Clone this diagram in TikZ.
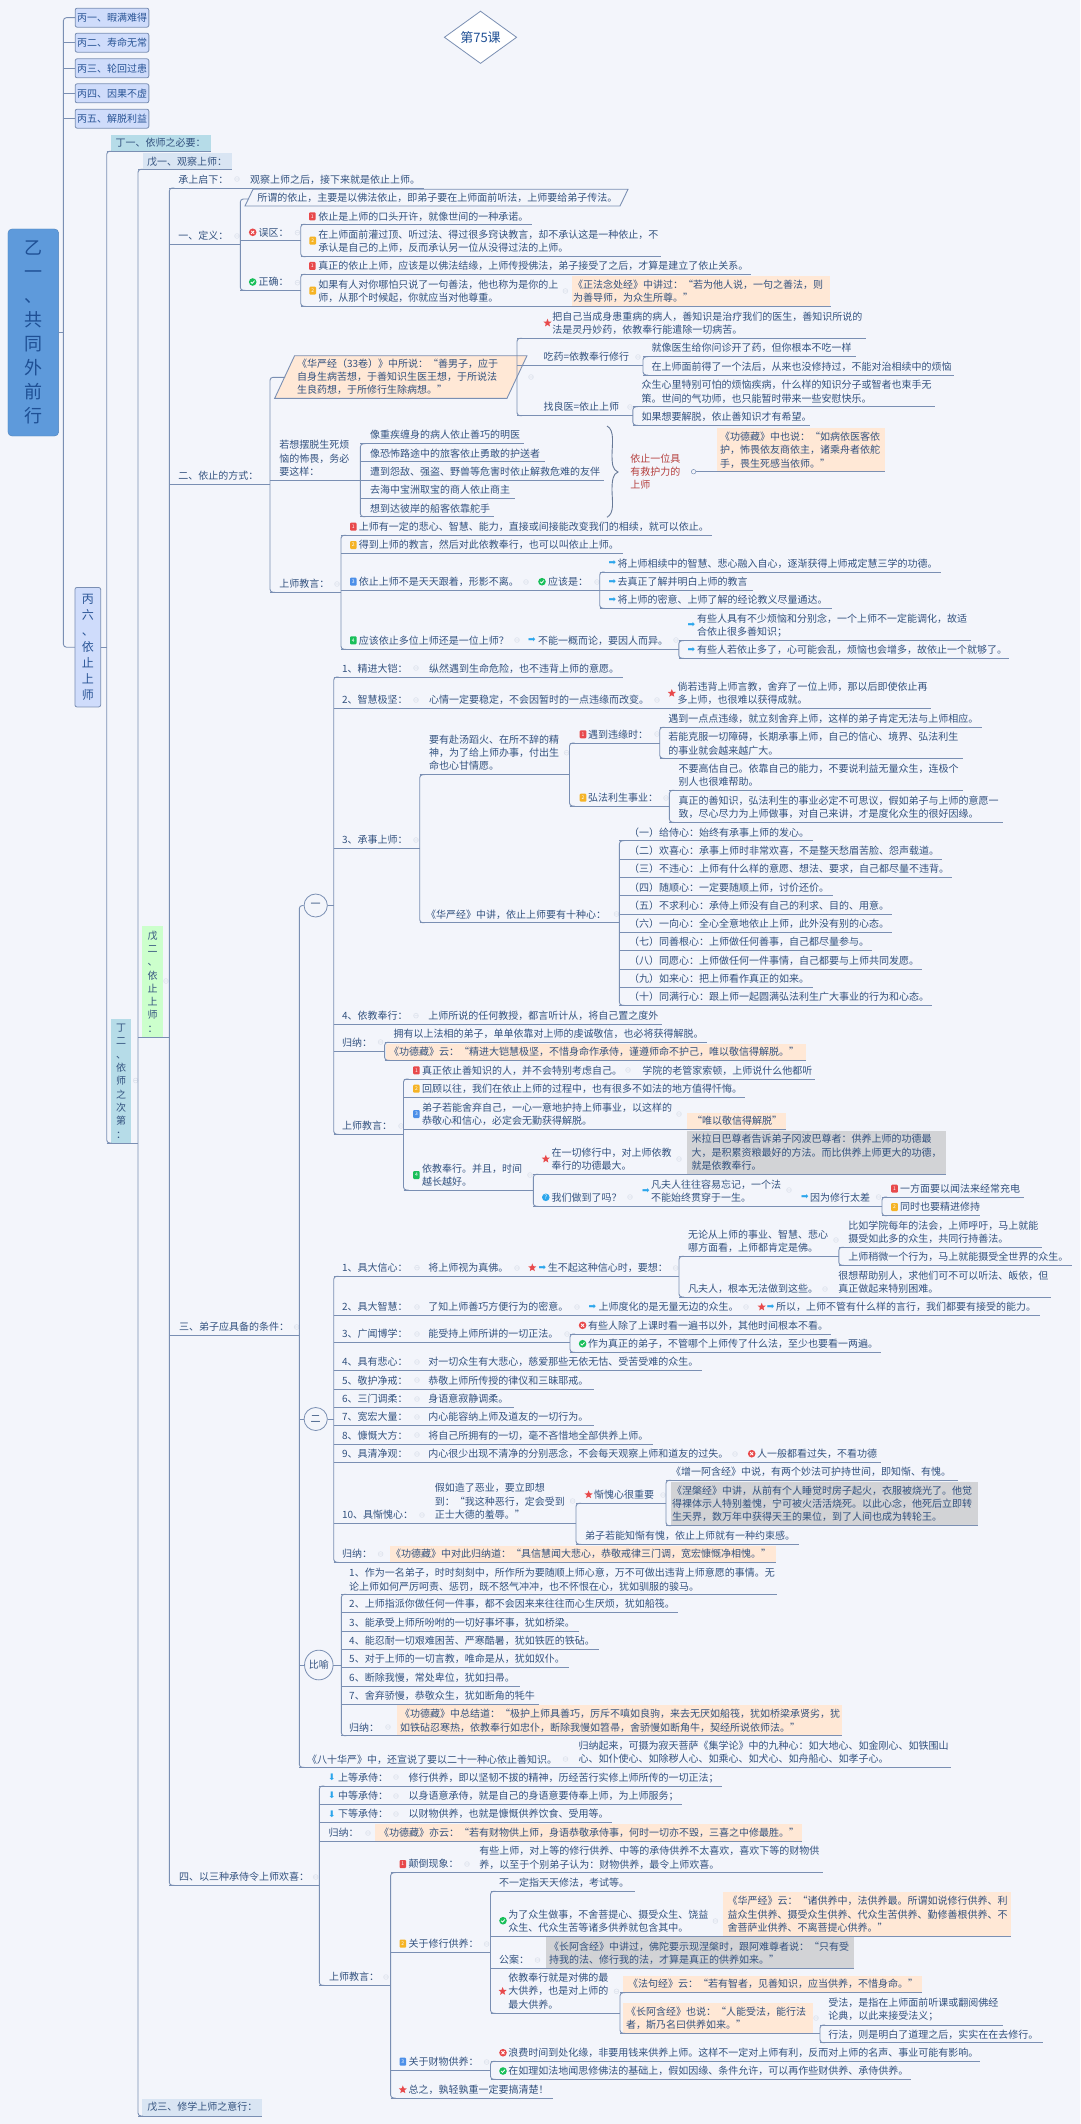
\documentclass[tikz,border=0pt]{standalone}
\usepackage{fontspec}
\setmainfont{Noto Sans CJK SC}
\newfontfamily\djf{DejaVu Sans}
\usetikzlibrary{shapes.geometric}
\definecolor{bgc}{HTML}{F3F5FB}
\definecolor{ink}{HTML}{33527F}
\definecolor{linkc}{HTML}{7A8FB3}
\definecolor{peach}{HTML}{FFE8D6}
\definecolor{greyb}{HTML}{D2D3D6}
\definecolor{wuc}{HTML}{D9E5F3}
\definecolor{dingc}{HTML}{B6DCE8}
\definecolor{wugreen}{HTML}{CCFFCC}
\definecolor{bingc}{HTML}{CFDCFB}
\definecolor{bingt}{HTML}{2A5596}
\definecolor{rootc}{HTML}{5E9ADB}
\definecolor{roott}{HTML}{1E4F94}
\definecolor{bred}{HTML}{E8494B}
\definecolor{borange}{HTML}{F5B325}
\definecolor{bblue}{HTML}{4C8FE8}
\definecolor{bgreen}{HTML}{19BF5A}
\definecolor{arrowc}{HTML}{2BA6EC}
\definecolor{mkc}{HTML}{DDE2EC}
\definecolor{redtxt}{HTML}{B5403F}
\tikzset{
  lab/.style={anchor=west,inner sep=0pt,outer sep=0pt,align=left,text=ink,font=\fontsize{10}{13.33}\selectfont},
  link/.style={draw=linkc,line width=0.9pt},
  boxn/.style={anchor=north west,inner sep=0pt,outer sep=0pt,draw=none},
  vert/.style={inner sep=0pt,outer sep=0pt,align=center,text=ink,font=\fontsize{10}{13.33}\selectfont},
  bing/.style={draw=linkc,fill=bingc,rounded corners=2pt,inner sep=0pt,outer sep=0pt,align=center,line width=.8pt,text=bingt,font=\fontsize{10}{13.33}\selectfont},
  badge/.style={rectangle,rounded corners=1pt,minimum width=6.6pt,minimum height=8pt,inner sep=0pt,text=white,font=\fontsize{5}{5}\selectfont},
  ico/.style={circle,minimum size=7.6pt,inner sep=0pt},
  aic/.style={inner sep=0pt,text=arrowc,font=\djf\fontsize{9}{9}\selectfont},
  sic/.style={star,star points=5,star point ratio=2.3,fill=bred,minimum size=8.5pt,inner sep=0pt},
  circn/.style={ellipse,draw=linkc,line width=.8pt,inner sep=0pt,text=ink,font=\fontsize{10}{12}\selectfont},
  mk/.style={draw=mkc,line width=.6pt},
  para/.style={draw=linkc,line width=.9pt}
}
\newcommand\Sa{\vrule width0pt height 10.4pt depth 0pt\relax}
\newcommand\Sb{\vrule width0pt height 0pt depth 2.9pt\relax}
\newcommand\Tx[4]{\node[lab] (#1) at (#2,#3) {\Sa #4\Sb};}
\newcommand\Ln[4]{\coordinate (#1-l) at (#3,#2);\coordinate (#1-r) at (#4,#2);\draw[link] (#1-l) -- (#1-r);}
\newcommand\Ul[7]{\Ln{#1}{#5}{#6}{#7}\Tx{#1}{#2}{#3}{#4}}
\newcommand\Tr[2]{\draw[link,rounded corners=3pt] ([xshift=5pt]#1-l) -- (#1-l) -- (#2-l) -- ([xshift=5pt]#2-l);}
\newcommand\Bg[6]{\node[boxn,fill=#6,minimum width={(#4)-(#2)},minimum height={(#5)-(#3)}] (#1) at (#2,#3) {};}
\newcommand\Bd[5]{\node[badge,fill=#5] (#1) at (#2,#3) {#4};}
\newcommand\IcX[3]{\node[ico,fill=bred] (#1) at (#2,#3) {};\draw[white,line width=.8pt] ([shift={(-1.5,-1.5)}]#1.center) -- ([shift={(1.5,1.5)}]#1.center) ([shift={(-1.5,1.5)}]#1.center) -- ([shift={(1.5,-1.5)}]#1.center);}
\newcommand\IcC[3]{\node[ico,fill=bgreen] (#1) at (#2,#3) {};\draw[white,line width=.8pt] ([shift={(-1.9,0)}]#1.center) -- ([shift={(-.5,1.4)}]#1.center) -- ([shift={(1.9,-1.3)}]#1.center);}
\newcommand\IcQ[3]{\node[ico,fill=arrowc,text=white,font=\fontsize{6}{6}\selectfont] (#1) at (#2,#3) {?};}
\newcommand\IcA[3]{\node[aic] (#1) at (#2,#3) {➡};}
\newcommand\IcD[3]{\node[aic] (#1) at (#2,#3) {⬇};}
\newcommand\IcS[3]{\node[sic] (#1) at (#2,#3) {};}
\begin{document}
\begin{tikzpicture}[x=1pt,y=-1pt]
\useasboundingbox (0,0) rectangle (1080,2124);
\fill[bgc] (0,0) rectangle (1080,2124);
% faint collapse marks
\foreach \mx/\my in {237/179,237/236,297.5/232.7,297.5/282.7,565.4/291,531/377,638/357,630/407,337/584,526/582,597/582,517/640,676/640,416/668,416/700,657/700,416/840,566.6/752.7,657/734,666/798,616.5/914,416/1015.7,380.6/1042,628/1070,401/1126,679/1114,530/1175,679/1159,630/1197,789/1190,878.6/1197,417/1267.7,517/1268,675.6/1268,836/1240,825/1289,417/1307,577/1307,746/1307,417/1334,567/1334,417/1362,417/1380,417/1399,417/1417,417/1435,417/1454,735/1454,422/1515,572.6/1501,663/1495,380.6/1554,388/1727,565.5/1759,396/1777,396/1796,396/1814,368/1833,467/1864,486.6/1944,715.4/1921,537.5/1960,616.5/1991.3,816/2018,486.6/2062,386/1977,315.7/1877,296.7/1327,166/981,135.7/1080.5}
  {\draw[mk] (\mx,\my) circle (2.4pt) (\mx-1.5,\my) -- (\mx+1.5,\my);}
% title
\node[diamond,draw=linkc,fill=white,line width=.8pt,inner sep=0pt,minimum width=72.5pt,minimum height=48.7pt,text=roott,font=\fontsize{13}{15}\selectfont] (title) at (480.5,37.3) {第75课};
% root and level bing
\node[draw=rootc!85!black,fill=rootc,rounded corners=4pt,inner sep=0pt,outer sep=0pt,minimum width=50.7pt,minimum height=207pt,align=center,text=roott,font=\fontsize{18}{24}\selectfont] (root) at (33.3,332.5) {乙\\一\\、\\共\\同\\外\\前\\行};
\foreach \nm/\cy/\tx in {b1/17.7/丙一、暇满难得,b2/42.7/丙二、寿命无常,b3/68.3/丙三、轮回过患,b4/93.3/丙四、因果不虚,b5/118.7/丙五、解脱利益}
  {\node[bing,minimum width=73.7pt,minimum height=19pt] (\nm) at (112,\cy) {\tx};}
\node[bing,minimum width=25.7pt,minimum height=119.5pt,font=\fontsize{12}{16}\selectfont] (b6) at (87.8,647.2) {丙\\六\\、\\依\\止\\上\\师};
\coordinate (tkA) at (63.4,0);
\draw[link,rounded corners=3pt] (b1.west) -- (b1.west -| tkA) -- (b6.west -| tkA) -- (b6.west);
\draw[link] (b2.west) -- (b2.west -| tkA) (b3.west) -- (b3.west -| tkA) (b4.west) -- (b4.west -| tkA) (b5.west) -- (b5.west -| tkA) (root.east) -- (root.east -| tkA);
% ding / wu
\Bg{d1b}{111}{134.7}{210.7}{151.3}{dingc}
\Ul{d1}{115.5}{143}{丁一、依师之必要：}{151.3}{106.7}{210.7}
\node[vert,fill=dingc,minimum width=20pt,minimum height=124pt] (d2) at (121,1081) {丁\\二\\、\\依\\师\\之\\次\\第\\：};
\Ln{d2}{1143}{106.7}{138}
\Tr{d1}{d2}
\draw[link] (b6.east) -- (b6.east -| d1-l);
\Bg{e1b}{143.3}{153.3}{232}{169.3}{wuc}
\Ul{e1}{147}{161.3}{戊一、观察上师：}{169.3}{138}{232}
\node[vert,fill=wugreen,minimum width=20.4pt,minimum height=111pt] (e2) at (152.5,981.5) {戊\\二\\、\\依\\止\\上\\师\\：};
\Ln{e2}{1037}{138}{169.3}
\Bg{e3b}{142}{2098.5}{262}{2116}{wuc}
\Ul{e3}{147.3}{2107}{戊三、修学上师之意行：}{2116}{138}{262}
\Tr{e1}{e3}
% f1
\Ul{f1}{178.3}{179.5}{承上启下：}{188}{169.3}{423.6}
\Tx{f1a}{250}{179.5}{观察上师之后，接下来就是依止上师。}
% f2 definition
\Ul{f2}{178.3}{236}{一、定义：}{244.3}{169.3}{240.3}
\draw[para] (253,189.3) -- (628,189.3) -- (620,206) -- (245,206) -- cycle;
\coordinate (pA) at (249,199);
\Tx{f2a}{257.3}{198}{所谓的依止，主要是以佛法依止，即弟子要在上师面前听法，上师要给弟子传法。}
\IcX{i1}{252.7}{232.3}
\Ul{g1}{258.7}{232.3}{误区：}{240.3}{240.3}{300.7}
\IcC{i2}{252.7}{282}
\Ul{g2}{258.7}{282}{正确：}{290.3}{240.3}{300.7}
\draw[link,rounded corners=3pt] (pA) -- (pA -| g1-l) -- (g2-l) -- ([xshift=5pt]g2-l);
\Bd{i3}{312.3}{216.3}{1}{bred}
\Ul{g1a}{318.3}{216.3}{依止是上师的口头开许，就像世间的一种承诺。}{224.3}{300.7}{531.7}
\Bd{i4}{312.7}{240.7}{2}{borange}
\Ul{g1b}{318.3}{241}{在上师面前灌过顶、听过法、得过很多窍诀教言，却不承认这是一种依止，不\\承认是自己的上师，反而承认另一位从没得过法的上师。}{256.7}{300.7}{661}
\Tr{g1a}{g1b}
\Bd{i5}{312.3}{266}{1}{bred}
\Ul{g2a}{318.3}{266}{真正的依止上师，应该是以佛法结缘，上师传授佛法，弟子接受了之后，才算是建立了依止关系。}{274.3}{300.7}{750.7}
\Bg{g2pb}{571.6}{276}{830}{306.3}{peach}
\Bd{i6}{312.7}{290.7}{2}{borange}
\Ul{g2b}{318.3}{291.5}{如果有人对你哪怕只说了一句善法，他也称为是你的上\\师，从那个时候起，你就应当对他尊重。}{306.3}{300.7}{831}
\Tr{g2a}{g2b}
\Tx{g2p}{573}{291.5}{《正法念处经》中讲过：“若为他人说，一句之善法，则\\为善导师，为众生所尊。”}
% f3 way of relying
\Ul{f3}{178.3}{475.7}{二、依止的方式：}{484}{169.3}{270}
\draw[para,fill=peach] (294.6,355.7) -- (527,355.7) -- (507,398.3) -- (274.7,398.3) -- cycle;
\coordinate (pB) at (285,377.3);
\coordinate (pC) at (517,377.3);
\Tx{h1}{297}{376.7}{《华严经（33卷）》中所说：“善男子，应于\\自身生病苦想，于善知识生医王想，于所说法\\生良药想，于所修行生除病想。”}
\IcS{i7}{547.5}{323}
\Ul{h2}{552.3}{323}{把自己当成身患重病的病人，善知识是治疗我们的医生，善知识所说的\\法是灵丹妙药，依教奉行能遣除一切病苦。}{338.3}{517}{865.7}
\Ul{h3}{543.6}{356.7}{吃药=依教奉行修行}{365.3}{517}{643}
\Ul{h4}{543.6}{407}{找良医=依止上师}{415.7}{517}{632.9}
\Tr{h2}{h4}
\Ul{h3a}{651.7}{348}{就像医生给你问诊开了药，但你根本不吃一样}{356.7}{643}{855.8}
\Ul{h3b}{651.7}{366.3}{在上师面前得了一个法后，从来也没修持过，不能对治相续中的烦恼}{375}{643}{954}
\Tr{h3a}{h3b}
\Ul{h4a}{641.5}{391.7}{众生心里特别可怕的烦恼疾病，什么样的知识分子或智者也束手无\\策。世间的气功师，也只能暂时带来一些安慰快乐。}{406.7}{632.9}{935}
\Ul{h4b}{641.5}{416.7}{如果想要解脱，依止善知识才有希望。}{425.3}{632.9}{810}
\Tr{h4a}{h4b}
\Ul{k1}{279.3}{458.3}{若想摆脱生死烦\\恼的怖畏，务必\\要这样：}{480.3}{270}{360.4}
\Ul{k1a}{370}{435}{像重疾缠身的病人依止善巧的明医}{443.7}{360.4}{524}
\Ul{k1b}{370}{453.3}{像恐怖路途中的旅客依止勇敢的护送者}{461.7}{360.4}{544.6}
\Ul{k1c}{370}{471.7}{遭到怨敌、强盗、野兽等危害时依止解救危难的友伴}{480.3}{360.4}{603.8}
\Ul{k1d}{370}{490}{去海中宝洲取宝的商人依止商主}{498.7}{360.4}{514.5}
\Ul{k1e}{370}{508.3}{想到达彼岸的船客依靠舵手}{516.7}{360.4}{494}
\Tr{k1a}{k1e}
\draw[draw=linkc!85!black,line width=.9pt] (607,426) .. controls (615,430) and (612,445) .. (612,455) .. controls (612,465) and (613,470) .. (618,472) .. controls (613,474) and (612,480) .. (612,490) .. controls (612,500) and (615,513) .. (607,517.3);
\node[lab,text=redtxt] (redt) at (630.3,471.7) {\Sa 依止一位具\\有救护力的\\上师\Sb};
\Bg{k2b}{717}{428.3}{885.4}{471.7}{peach}
\Ul{k2}{720}{450}{《功德藏》中也说：“如病依医客依\\护，怖畏依友商依主，诸乘舟者依舵\\手，畏生死感当依师。”}{471.7}{717}{885.4}
\node[circle,draw=linkc,line width=.5pt,minimum size=4.5pt,inner sep=0pt] (cm) at (693.6,471.7) {};
\draw[link] (cm) -- (k2-l);
\Ul{k3}{279.3}{583.7}{上师教言：}{592.3}{270}{341}
\draw[link,rounded corners=3pt] (pB) -- (pB -| f3-r) -- (k3-r -| f3-r) -- ([xshift=5pt]k3-r -| f3-r);
\Bd{i8}{353.3}{526.7}{1}{bred}
\Ul{m1}{358.9}{526.7}{上师有一定的悲心、智慧、能力，直接或间接能改变我们的相续，就可以依止。}{535.3}{341}{712}
\Bd{i9}{353.3}{545}{2}{borange}
\Ul{m2}{358.9}{545}{得到上师的教言，然后对此依教奉行，也可以叫依止上师。}{553.3}{341}{622.6}
\Bd{i10}{353.3}{581.7}{3}{bblue}
\Ul{m3}{358.9}{581.7}{依止上师不是天天跟着，形影不离。}{590.3}{341}{599.7}
\IcC{i11}{542}{581.7}
\Tx{m3a}{548}{581.7}{应该是：}
\IcA{i12}{612.4}{563.3}
\Ul{m3b}{617.6}{563.3}{将上师相续中的智慧、悲心融入自心，逐渐获得上师戒定慧三学的功德。}{572}{599.7}{941}
\IcA{i13}{612.4}{581.7}
\Ul{m3c}{617.6}{581.7}{去真正了解并明白上师的教言}{590.3}{599.7}{752.8}
\IcA{i14}{612.4}{600}
\Ul{m3d}{617.6}{600}{将上师的密意、上师了解的经论教义尽量通达。}{608.3}{599.7}{831.8}
\Tr{m3b}{m3d}
\Bd{i15}{353.3}{640.3}{4}{bgreen}
\Ul{m4}{358.9}{640.3}{应该依止多位上师还是一位上师？}{649.3}{341}{678.8}
\IcA{i16}{531.8}{640.3}
\Tx{m4a}{538}{640.3}{不能一概而论，要因人而异。}
\IcA{i17}{691.5}{624.7}
\Ul{m4b}{697}{625}{有些人具有不少烦恼和分别念，一个上师不一定能调化，故适\\合依止很多善知识；}{640.7}{678.8}{970.6}
\IcA{i18}{691.5}{650}
\Ul{m4c}{697}{650}{有些人若依止多了，心可能会乱，烦恼也会增多，故依止一个就够了。}{658.3}{678.8}{1009}
\Tr{m4b}{m4c}
\Tr{m1}{m4}
% f4 disciple conditions
\Ul{f4}{179}{1327}{三、弟子应具备的条件：}{1335.8}{169.3}{299.3}
\node[circn,minimum width=23.3pt,minimum height=23pt] (c1) at (315.7,905.5) {一};
\node[circn,minimum width=23.3pt,minimum height=23pt] (c2) at (315.7,1419) {二};
\node[circn,minimum width=28.5pt,minimum height=29.7pt] (c3) at (318.8,1665) {比喻};
\Ul{n1}{342}{668.3}{1、精进大铠：}{677}{333.7}{623.3}
\Tx{n1a}{429}{668.3}{纵然遇到生命危险，也不违背上师的意愿。}
\Ul{n2}{342}{700}{2、智慧极坚：}{708.7}{333.7}{931}
\Tx{n2a}{429}{700}{心情一定要稳定，不会因暂时的一点违缘而改变。}
\IcS{i19}{671.8}{693.3}
\Tx{n2b}{677.6}{693.3}{倘若违背上师言教，舍弃了一位上师，那以后即使依止再\\多上师，也很难以获得成就。}
\Ul{n3}{342}{839.7}{3、承事上师：}{848.3}{333.7}{419.7}
\Ul{n3a}{429}{752.7}{要有赴汤蹈火、在所不辞的精\\神，为了给上师办事，付出生\\命也心甘情愿。}{774.7}{419.7}{569.5}
\Ul{n3b}{426}{914.3}{《华严经》中讲，依止上师要有十种心：}{922.7}{419.7}{619.4}
\Tr{n3a}{n3b}
\Bd{i20}{583}{734.3}{1}{bred}
\Ul{o1}{588}{734.3}{遇到违缘时：}{743}{569.5}{659.7}
\Bd{i21}{583}{797.7}{2}{borange}
\Ul{o2}{588}{797.7}{弘法利生事业：}{806}{569.5}{669.4}
\Tr{o1}{o2}
\Ul{o1a}{668.4}{718.3}{遇到一点点违缘，就立刻舍弃上师，这样的弟子肯定无法与上师相应。}{727.3}{659.7}{982}
\Ul{o1b}{668.4}{743.7}{若能克服一切障碍，长期承事上师，自己的信心、境界、弘法利生\\的事业就会越来越广大。}{758.3}{659.7}{962.6}
\Tr{o1a}{o1b}
\Ul{o2a}{678.6}{775.3}{不要高估自己。依靠自己的能力，不要说利益无量众生，连极个\\别人也很难帮助。}{790.3}{669.4}{962.6}
\Ul{o2b}{678.6}{807}{真正的善知识，弘法利生的事业必定不可思议，假如弟子与上师的意愿一\\致，尽心尽力为上师做事，对自己来讲，才是度化众生的很好因缘。}{822.3}{669.4}{1003}
\Tr{o2a}{o2b}
\Ul{p1}{629}{832.3}{（一）给侍心：始终有承事上师的发心。}{840.7}{619.4}{812.8}
\Ul{p2}{629}{850.7}{（二）欢喜心：承事上师时非常欢喜，不是整天愁眉苦脸、怨声载道。}{859}{619.4}{942.3}
\Ul{p3}{629}{869}{（三）不违心：上师有什么样的意愿、想法、要求，自己都尽量不违背。}{877.4}{619.4}{952}
\Ul{p4}{629}{887.3}{（四）随顺心：一定要随顺上师，讨价还价。}{895.7}{619.4}{833}
\Ul{p5}{629}{905.3}{（五）不求利心：承侍上师没有自己的利求、目的、用意。}{914}{619.4}{892.3}
\Ul{p6}{629}{923.7}{（六）一向心：全心全意地依止上师，此外没有别的心态。}{932.3}{619.4}{892.3}
\Ul{p7}{629}{942}{（七）同善根心：上师做任何善事，自己都尽量参与。}{950.6}{619.4}{872}
\Ul{p8}{629}{960.3}{（八）同愿心：上师做任何一件事情，自己都要与上师共同发愿。}{969}{619.4}{922}
\Ul{p9}{629}{978.7}{（九）如来心：把上师看作真正的如来。}{987.3}{619.4}{812.8}
\Ul{p10}{629}{997}{（十）同满行心：跟上师一起圆满弘法利生广大事业的行为和心态。}{1005.3}{619.4}{932}
\Tr{p1}{p10}
\Ul{n4}{342}{1015.7}{4、依教奉行：}{1024}{333.7}{662}
\Tx{n4a}{428.4}{1015.7}{上师所说的任何教授，都言听计从，将自己置之度外}
\Ul{n5}{342}{1042.3}{归纳：}{1051.7}{333.7}{384.6}
\Ul{n5a}{393.5}{1033.7}{拥有以上法相的弟子，单单依靠对上师的虔诚敬信，也必将获得解脱。}{1042.3}{384.6}{706.5}
\Bg{n5pb}{385.6}{1044.3}{805.5}{1060.3}{peach}
\Ul{n5b}{389}{1052}{《功德藏》云：“精进大铠慧极坚，不惜身命作承侍，谨遵师命不护己，唯以敬信得解脱。”}{1060.3}{384.6}{805.5}
\Tr{n5a}{n5b}
\Ul{n6}{342}{1126}{上师教言：}{1134.3}{333.7}{403.5}
\Tr{n1}{n6}
\draw[link] (c1.east) -- (c1.east -| n1-l);
\Bd{i22}{416.4}{1070.3}{1}{bred}
\Ul{q1}{422}{1070.3}{真正依止善知识的人，并不会特别考虑自己。}{1079}{403.5}{815.4}
\Tx{q1a}{642.3}{1070.3}{学院的老管家索顿，上师说什么他都听}
\Bd{i23}{416.4}{1088.7}{2}{borange}
\Ul{q2}{422}{1088.7}{回顾以往，我们在依止上师的过程中，也有很多不如法的地方值得忏悔。}{1097.7}{403.5}{745.3}
\Bg{q3pb}{687}{1112.7}{785.6}{1129.3}{peach}
\Bd{i24}{416.4}{1114}{3}{bblue}
\Ul{q3}{422}{1114}{弟子若能舍弃自己，一心一意地护持上师事业，以这样的\\恭敬心和信心，必定会无勤获得解脱。}{1129.3}{403.5}{785.6}
\Tx{q3a}{692}{1121}{“唯以敬信得解脱”}
\Bd{i25}{416.4}{1175}{4}{bgreen}
\Ul{q4}{422}{1175}{依教奉行。并且，时间\\越长越好。}{1190}{403.5}{533.3}
\Tr{q1}{q4}
\Bg{q5gb}{687}{1130.7}{945.8}{1174.3}{greyb}
\IcS{i26}{545.8}{1159}
\Ul{q5}{551.7}{1159}{在一切修行中，对上师依教\\奉行的功德最大。}{1174.3}{533.3}{945.8}
\Tx{q5a}{691.5}{1152.3}{米拉日巴尊者告诉弟子冈波巴尊者：供养上师的功德最\\大，是积累资粮最好的方法。而比供养上师更大的功德，\\就是依教奉行。}
\IcQ{i27}{545.8}{1197.3}
\Ul{q6}{551.7}{1197.3}{我们做到了吗？}{1206.3}{533.3}{882}
\Tr{q5}{q6}
\IcA{i28}{645.8}{1190.7}
\Tx{q6a}{651.2}{1191}{凡夫人往往容易忘记，一个法\\不能始终贯穿于一生。}
\IcA{i29}{805}{1197.3}
\Tx{q6b}{810}{1197.5}{因为修行太差}
\Bd{i30}{894.5}{1188.7}{1}{bred}
\Ul{q7}{900}{1188.7}{一方面要以闻法来经常充电}{1197}{882}{1024.4}
\Bd{i31}{894.5}{1207}{2}{borange}
\Ul{q8}{900}{1207}{同时也要精进修持}{1215.7}{882}{979.6}
\Tr{q7}{q8}
% two
\Ul{r1}{342}{1267.7}{1、具大信心：}{1276.3}{333.7}{679}
\Tx{r1a}{428.4}{1267.7}{将上师视为真佛。}
\IcS{i32}{532.3}{1267.7}
\IcA{i33}{542.3}{1267.7}
\Tx{r1b}{547.8}{1267.7}{生不起这种信心时，要想：}
\Ul{r1c}{688}{1241}{无论从上师的事业、智慧、悲心\\哪方面看，上师都肯定是佛。}{1256.3}{679}{838.8}
\Ul{r1d}{688}{1288.7}{凡夫人，根本无法做到这些。}{1297}{679}{1051.3}
\Tr{r1c}{r1d}
\Tx{r1e}{838.3}{1282}{很想帮助别人，求他们可不可以听法、皈依，但\\真正做起来特别困难。}
\Ul{r1f}{848.3}{1232}{比如学院每年的法会，上师呼吁，马上就能\\摄受如此多的众生，共同行持善法。}{1247.3}{838.8}{1042.3}
\Ul{r1g}{848.3}{1256.7}{上师稍微一个行为，马上就能摄受全世界的众生。}{1265.3}{838.8}{1072}
\Tr{r1f}{r1g}
\Ul{r2}{342}{1307}{2、具大智慧：}{1315.7}{333.7}{1040.3}
\Tx{r2a}{428.4}{1307}{了知上师善巧方便行为的密意。}
\IcA{i34}{592.5}{1307}
\Tx{r2b}{598.5}{1307}{上师度化的是无量无边的众生。}
\IcS{i35}{761.7}{1307}
\IcA{i36}{770.6}{1307}
\Tx{r2c}{776}{1307}{所以，上师不管有什么样的言行，我们都要有接受的能力。}
\Ul{r3}{342}{1334}{3、广闻博学：}{1342.7}{333.7}{570}
\Tx{r3a}{428.4}{1334}{能受持上师所讲的一切正法。}
\IcX{i37}{582.6}{1325.3}
\Ul{r3b}{588}{1325.3}{有些人除了上课时看一遍书以外，其他时间根本不看。}{1334}{570}{831.3}
\IcC{i38}{582.6}{1343.7}
\Ul{r3c}{588}{1343.7}{作为真正的弟子，不管哪个上师传了什么法，至少也要看一两遍。}{1352.3}{570}{881}
\Tr{r3b}{r3c}
\Ul{r4}{342}{1362}{4、具有悲心：}{1370.7}{333.7}{702}
\Tx{r4a}{428.4}{1362}{对一切众生有大悲心，慈爱那些无依无怙、受苦受难的众生。}
\Ul{r5}{342}{1380.3}{5、敬护净戒：}{1389}{333.7}{593.5}
\Tx{r5a}{428.4}{1380.3}{恭敬上师所传授的律仪和三昧耶戒。}
\Ul{r6}{342}{1398.7}{6、三门调柔：}{1407.3}{333.7}{514}
\Tx{r6a}{428.4}{1398.7}{身语意寂静调柔。}
\Ul{r7}{342}{1417}{7、宽宏大量：}{1425.7}{333.7}{593.5}
\Tx{r7a}{428.4}{1417}{内心能容纳上师及道友的一切行为。}
\Ul{r8}{342}{1435.3}{8、慷慨大方：}{1444}{333.7}{653}
\Tx{r8a}{428.4}{1435.3}{将自己所拥有的一切，毫不吝惜地全部供养上师。}
\Ul{r9}{342}{1453.7}{9、具清净观：}{1462.3}{333.7}{881}
\Tx{r9a}{428.4}{1453.7}{内心很少出现不清净的分别恶念，不会每天观察上师和道友的过失。}
\IcX{i39}{751.7}{1453.7}
\Tx{r9b}{757.2}{1453.7}{人一般都看过失，不看功德}
\Ul{r10}{342}{1514.7}{10、具惭愧心：}{1523.3}{333.7}{576}
\Tx{r10a}{434.8}{1501.3}{假如造了恶业，要立即想\\到：“我这种恶行，定会受到\\正士大德的羞辱。”}
\IcS{i40}{588.6}{1494.7}
\Ul{r10b}{594}{1494.7}{惭愧心很重要}{1503.3}{576}{666}
\Ul{r10c}{585}{1535.7}{弟子若能知惭有愧，依止上师就有一种约束感。}{1544.3}{576}{799}
\Tr{r10b}{r10c}
\Ul{r10d}{671}{1472}{《增一阿含经》中说，有两个妙法可护持世间，即知惭、有愧。}{1480.3}{666}{958}
\Bg{r10gb}{670.6}{1481.7}{978}{1525.7}{greyb}
\Ln{r10e}{1525.7}{666}{978}
\Tx{r10f}{672}{1503.7}{《涅槃经》中讲，从前有个人睡觉时房子起火，衣服被烧光了。他觉\\得裸体示人特别羞愧，宁可被火活活烧死。以此心念，他死后立即转\\生天界，数万年中获得天王的果位，到了人间也成为转轮王。}
\Tr{r10d}{r10e}
\Bg{r11pb}{389.6}{1545.7}{776}{1562.3}{peach}
\Ul{r11}{342}{1554}{归纳：}{1562.3}{333.7}{776}
\Tx{r11a}{391}{1554}{《功德藏》中对此归纳道：“具信慧闻大悲心，恭敬戒律三门调，宽宏慷慨净相愧。”}
\Tr{r1}{r11}
\draw[link] (c2.east) -- (c2.east -| r1-l);
% metaphor
\Ul{s1}{349.2}{1579.7}{1、作为一名弟子，时时刻刻中，所作所为要随顺上师心意，万不可做出违背上师意愿的事情。无\\论上师如何严厉呵责、惩罚，既不怒气冲冲，也不怀恨在心，犹如驯服的骏马。}{1594.3}{341.3}{777.4}
\Ul{s2}{349.2}{1604}{2、上师指派你做任何一件事，都不会因来来往往而心生厌烦，犹如船筏。}{1612.7}{341.3}{678}
\Ul{s3}{349.2}{1622.3}{3、能承受上师所吩咐的一切好事坏事，犹如桥梁。}{1631}{341.3}{579.3}
\Ul{s4}{349.2}{1640.7}{4、能忍耐一切艰难困苦、严寒酷暑，犹如铁匠的铁砧。}{1649.7}{341.3}{598.7}
\Ul{s5}{349.2}{1659}{5、对于上师的一切言教，唯命是从，犹如奴仆。}{1667.7}{341.3}{569.4}
\Ul{s6}{349.2}{1677.3}{6、断除我慢，常处卑位，犹如扫帚。}{1686}{341.3}{520}
\Ul{s7}{349.2}{1695.7}{7、舍弃骄慢，恭敬众生，犹如断角的牦牛}{1704.3}{341.3}{539}
\Bg{s8pb}{396.6}{1705.3}{842.3}{1735.7}{peach}
\Ul{s8}{349.2}{1727.3}{归纳：}{1735.7}{341.3}{842.3}
\Tx{s8a}{400}{1720.7}{《功德藏》中总结道：“极护上师具善巧，厉斥不嗔如良驹，来去无厌如船筏，犹如桥梁承贤劣，犹\\如铁砧忍寒热，依教奉行如忠仆，断除我慢如笤帚，舍骄慢如断角牛，契经所说依师法。”}
\Tr{s1}{s8}
\draw[link] (c3.east) -- (c3.east -| s1-l);
\Ul{s9}{307}{1759.3}{《八十华严》中，还宣说了要以二十一种心依止善知识。}{1767.3}{299.3}{950.7}
\Tx{s9a}{578.5}{1752.4}{归纳起来，可摄为寂天菩萨《集学论》中的九种心：如大地心、如金刚心、如铁围山\\心、如仆使心、如除秽人心、如乘心、如犬心、如舟船心、如孝子心。}
\draw[link,rounded corners=3pt] (c1.west) -- (c1.west -| s9-l) -- (s9-l) -- ([xshift=5pt]s9-l);
\draw[link] (c2.west) -- (c2.west -| s9-l) (c3.west) -- (c3.west -| s9-l);
% four
\Ul{f5}{179}{1876.7}{四、以三种承侍令上师欢喜：}{1885.3}{169.3}{319.3}
\Tr{f1}{f5}
\IcD{i41}{331.8}{1777.3}
\Ul{u1}{338}{1777.3}{上等承侍：}{1786}{319.3}{721.7}
\Tx{u1a}{408.5}{1777.3}{修行供养，即以坚韧不拔的精神，历经苦行实修上师所传的一切正法；}
\IcD{i42}{331.8}{1795.7}
\Ul{u2}{338}{1795.7}{中等承侍：}{1804.3}{319.3}{682}
\Tx{u2a}{408.5}{1795.7}{以身语意承侍，就是自己的身语意要侍奉上师，为上师服务；}
\IcD{i43}{331.8}{1814}
\Ul{u3}{338}{1814}{下等承侍：}{1822.7}{319.3}{612}
\Tx{u3a}{408.5}{1814}{以财物供养，也就是慷慨供养饮食、受用等。}
\Bg{u4pb}{375}{1824.3}{802}{1841}{peach}
\Ul{u4}{328.6}{1832.7}{归纳：}{1841}{319.3}{802}
\Tx{u4a}{379}{1832.7}{《功德藏》亦云：“若有财物供上师，身语恭敬承侍事，何时一切亦不毁，三喜之中修最胜。”}
\Ul{u5}{329}{1977}{上师教言：}{1985.3}{319.3}{390.6}
\Tr{u1}{u5}
\Bd{i44}{402.8}{1864}{1}{bred}
\Ul{v1}{408.6}{1864}{颠倒现象：}{1872.7}{390.6}{822.5}
\Tx{v1a}{479.4}{1857.7}{有些上师，对上等的修行供养、中等的承侍供养不太喜欢，喜欢下等的财物供\\养，以至于个别弟子认为：财物供养，最令上师欢喜。}
\Bd{i45}{402.8}{1943.7}{2}{borange}
\Ul{v2}{408.6}{1943.7}{关于修行供养：}{1952.3}{390.6}{490.5}
\Bd{i46}{402.8}{2061.7}{3}{bblue}
\Ul{v3}{408.6}{2061.7}{关于财物供养：}{2070.3}{390.6}{490.5}
\IcS{i47}{402.8}{2089.7}
\Ul{v4}{408.6}{2089.7}{总之，孰轻孰重一定要搞清楚！}{2098}{390.6}{553}
\Tr{v1}{v4}
\Ul{w1}{499.2}{1882.7}{不一定指天天修法，考试等。}{1891.3}{490.5}{634.5}
\Bg{w2pb}{723}{1892.3}{1011}{1936.7}{peach}
\IcC{i48}{503}{1920.7}
\Ul{w2}{508.4}{1921}{为了众生做事，不舍菩提心、摄受众生、饶益\\众生、代众生苦等诸多供养就包含其中。}{1936.7}{490.5}{1011}
\Tx{w2a}{727.5}{1914.3}{《华严经》云：“诸供养中，法供养最。所谓如说修行供养、利\\益众生供养、摄受众生供养、代众生苦供养、勤修善根供养、不\\舍菩萨业供养、不离菩提心供养。”}
\Bg{w3gb}{545.8}{1937.3}{853.6}{1968}{greyb}
\Ul{w3}{499.2}{1959.7}{公案：}{1968}{490.5}{853.6}
\Tx{w3a}{549}{1953}{《长阿含经》中讲过，佛陀要示现涅槃时，跟阿难尊者说：“只有受\\持我的法、修行我的法，才算是真正的供养如来。”}
\IcS{i49}{502.6}{1991.3}
\Ul{w4}{508.4}{1991}{依教奉行就是对佛的最\\大供养，也是对上师的\\最大供养。}{2013.3}{490.5}{620}
\Tr{w1}{w4}
\Bg{x1pb}{623.3}{1976}{922}{1992.7}{peach}
\Ul{x1}{628}{1984}{《法句经》云：“若有智者，见善知识，应当供养，不惜身命。”}{1992.7}{620}{922}
\Bg{x2pb}{623.3}{2003}{812.8}{2033.3}{peach}
\Ul{x2}{626}{2018.3}{《长阿含经》也说：“人能受法，能行法\\者，斯乃名曰供养如来。”}{2033.3}{620}{820}
\Tr{x1}{x2}
\Ul{x3}{828.4}{2009.3}{受法，是指在上师面前听课或翻阅佛经\\论典，以此来接受法义；}{2025}{820}{1003}
\Ul{x4}{828.4}{2034.3}{行法，则是明白了道理之后，实实在在去修行。}{2042.7}{820}{1043}
\Tr{x3}{x4}
\IcX{i50}{503}{2052.7}
\Ul{y1}{508.4}{2052.7}{浪费时间到处化缘，非要用钱来供养上师。这样不一定对上师有利，反而对上师的名声、事业可能有影响。}{2061.3}{490.5}{980}
\IcC{i51}{503}{2071}
\Ul{y2}{508.4}{2071}{在如理如法地闻思修佛法的基础上，假如因缘、条件允许，可以再作些财供养、承侍供养。}{2079.3}{490.5}{910.8}
\Tr{y1}{y2}
\end{tikzpicture}
\end{document}
